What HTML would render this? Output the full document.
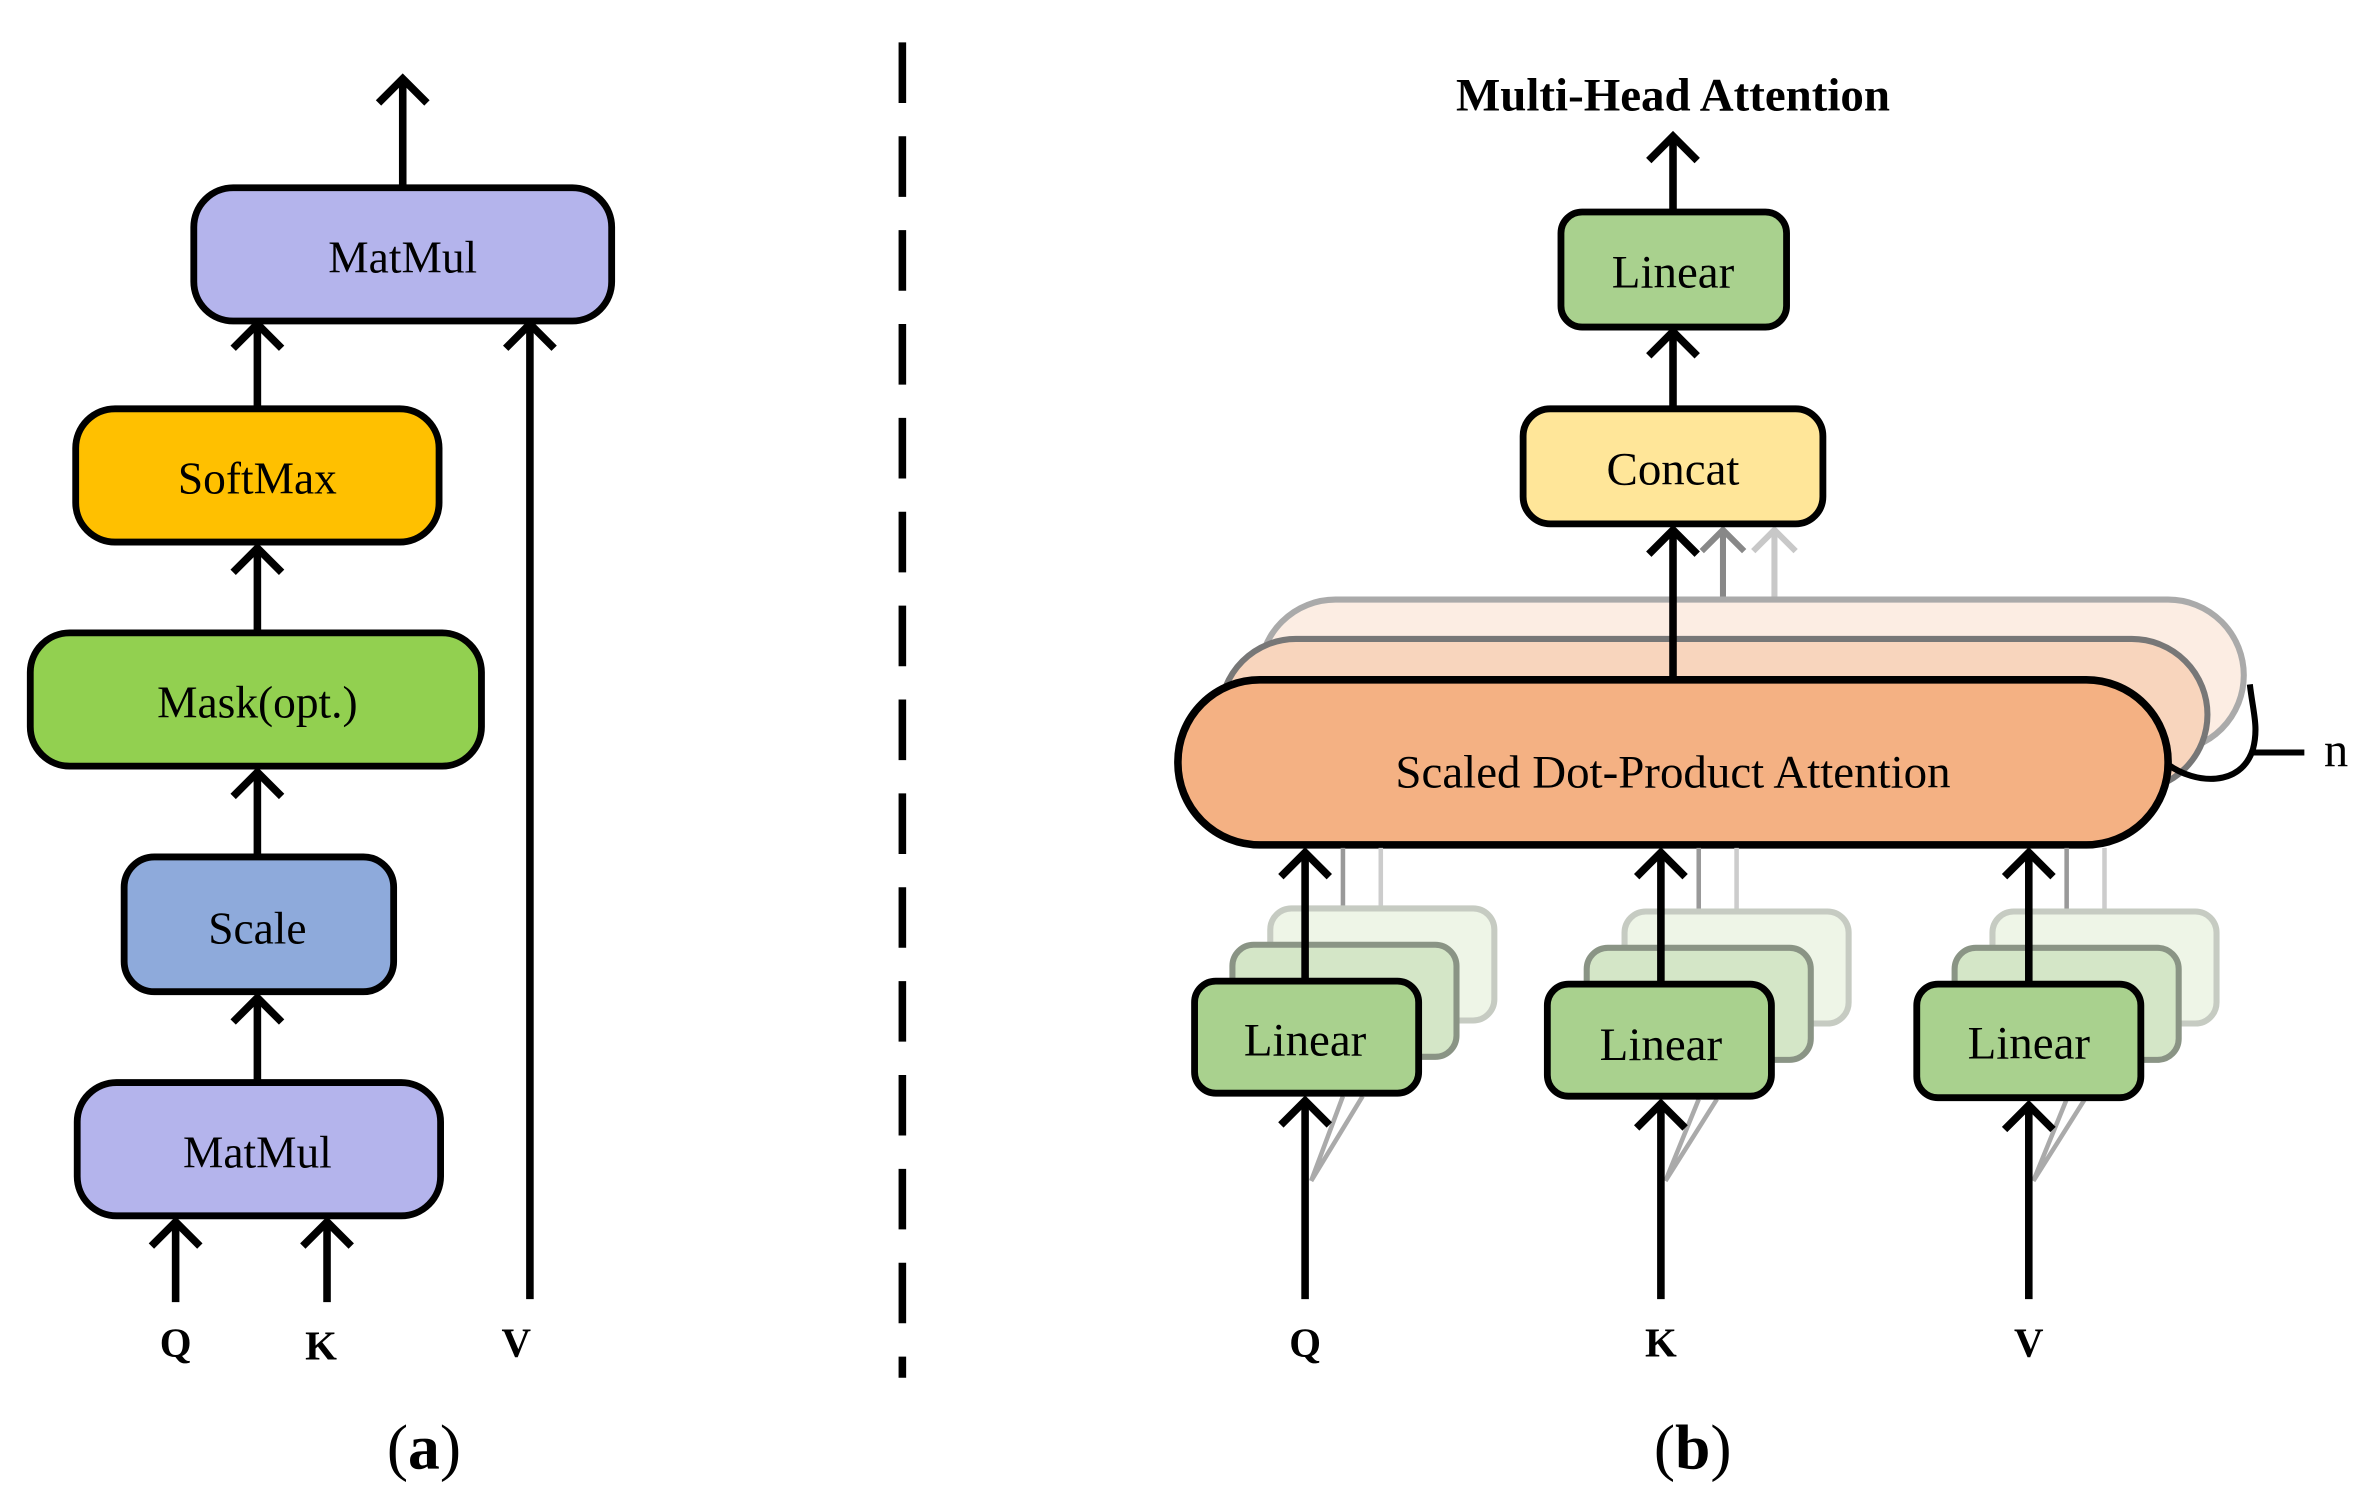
<!DOCTYPE html>
<html><head><meta charset="utf-8"><style>
html,body{margin:0;padding:0;background:#fff;}
svg{display:block;}
text{font-family:"Liberation Serif",serif;}
</style></head><body>
<svg width="2374" height="1505" viewBox="0 0 1568 994" xmlns="http://www.w3.org/2000/svg">
<defs>
<g id="ah"><path d="M-16,16 L0,0 L16,16" fill="none" stroke="#000" stroke-width="5"/></g>
</defs>
<rect width="1568" height="994" fill="#fff"/>
<!-- Left panel -->
<g stroke="#000" stroke-width="5" fill="none">
<line x1="266" y1="124" x2="266" y2="52"/>
<line x1="170" y1="270" x2="170" y2="214"/>
<line x1="350" y1="858" x2="350" y2="214"/>
<line x1="170" y1="418" x2="170" y2="362"/>
<line x1="170" y1="566" x2="170" y2="510"/>
<line x1="170" y1="715" x2="170" y2="659"/>
<line x1="116" y1="860" x2="116" y2="807"/>
<line x1="216" y1="860" x2="216" y2="807"/>
</g>
<use href="#ah" x="266" y="52"/>
<use href="#ah" x="170" y="214"/>
<use href="#ah" x="350" y="214"/>
<use href="#ah" x="170" y="362"/>
<use href="#ah" x="170" y="510"/>
<use href="#ah" x="170" y="659"/>
<use href="#ah" x="116" y="807"/>
<use href="#ah" x="216" y="807"/>
<g stroke="#000" stroke-width="4.5">
<rect x="128" y="124" width="276" height="88" rx="26" fill="#b4b4ec"/>
<rect x="50" y="270" width="240" height="88" rx="26" fill="#ffc000"/>
<rect x="20" y="418" width="298" height="88" rx="26" fill="#92d050"/>
<rect x="82" y="566" width="178" height="89" rx="20" fill="#8eaadb"/>
<rect x="51" y="715" width="240" height="88" rx="26" fill="#b4b4ec"/>
</g>
<g font-size="30" text-anchor="middle" fill="#000">
<text x="266" y="180">MatMul</text>
<text x="170" y="326">SoftMax</text>
<text x="170" y="474">Mask(opt.)</text>
<text x="170" y="623">Scale</text>
<text x="170" y="771">MatMul</text>
</g>
<g font-size="27" font-weight="bold" text-anchor="middle">
<text x="116" y="896">Q</text>
<text x="212" y="898">K</text>
<text x="341" y="896">V</text>
</g>
<text x="280" y="970" font-size="42" text-anchor="middle">(<tspan font-weight="bold">a</tspan>)</text>
<!-- dashed divider -->
<line x1="596" y1="28" x2="596" y2="910" stroke="#000" stroke-width="5" stroke-dasharray="40,22"/>
<!-- Right panel -->
<text x="1105" y="73" font-size="31" font-weight="bold" text-anchor="middle">Multi-Head Attention</text>
<line x1="1105" y1="140" x2="1105" y2="90" stroke="#000" stroke-width="5"/>
<use href="#ah" x="1105" y="90"/>
<rect x="1031" y="140" width="149" height="76" rx="14" fill="#a9d18e" stroke="#000" stroke-width="4.5"/>
<text x="1105" y="190" font-size="31" text-anchor="middle">Linear</text>
<line x1="1105" y1="270" x2="1105" y2="219" stroke="#000" stroke-width="5"/>
<use href="#ah" x="1105" y="219"/>
<g stroke="#888" stroke-width="4" fill="none">
<line x1="1138" y1="423" x2="1138" y2="350"/>
<path d="M1124,364 L1138,350 L1152,364"/>
</g>
<g stroke="#c8c8c8" stroke-width="4" fill="none">
<line x1="1172" y1="397" x2="1172" y2="350"/>
<path d="M1158,364 L1172,350 L1186,364"/>
</g>
<rect x="1006" y="270" width="198" height="76" rx="18" fill="#ffe699" stroke="#000" stroke-width="4.5"/>
<text x="1105" y="320" font-size="31" text-anchor="middle">Concat</text>
<!-- SDPA stack -->
<rect x="832" y="396" width="650" height="100" rx="50" fill="#fcede3" stroke="#aaa" stroke-width="4"/>
<rect x="806" y="422" width="652" height="100" rx="50" fill="#f8d5bd" stroke="#777" stroke-width="4"/>
<line x1="1105" y1="449" x2="1105" y2="350" stroke="#000" stroke-width="5"/>
<use href="#ah" x="1105" y="350"/>
<rect x="778" y="449" width="654" height="109" rx="54" fill="#f4b183" stroke="#000" stroke-width="5"/>
<text x="1105" y="520" font-size="31" text-anchor="middle">Scaled Dot-Product Attention</text>
<path d="M1432,505 C1450,518 1480,520 1488,495 C1492,480 1488,470 1486,452" fill="none" stroke="#000" stroke-width="4"/>
<line x1="1488" y1="497" x2="1522" y2="497" stroke="#000" stroke-width="4"/>
<text x="1543" y="506" font-size="32" text-anchor="middle">n</text>
<g>
<line x1="912" y1="600" x2="912" y2="560" stroke="#ccc" stroke-width="3"/>
<line x1="887" y1="625" x2="887" y2="560" stroke="#999" stroke-width="3"/>
<rect x="839" y="600" width="148" height="74" rx="14" fill="#eef5e7" stroke="#c6cbc2" stroke-width="4"/>
<rect x="814" y="624" width="148" height="74" rx="14" fill="#d4e6c7" stroke="#8a9485" stroke-width="4"/>
<path d="M866,780 L887,724 M866,780 L900,724" stroke="#aaa" stroke-width="3"/>
<line x1="862" y1="648" x2="862" y2="563" stroke="#000" stroke-width="5"/>
<use href="#ah" x="862" y="563"/>
<rect x="789" y="648" width="148" height="74" rx="14" fill="#a9d18e" stroke="#000" stroke-width="4.5"/>
<text x="862" y="697" font-size="31" text-anchor="middle">Linear</text>
<line x1="862" y1="858" x2="862" y2="727" stroke="#000" stroke-width="5"/>
<use href="#ah" x="862" y="727"/>
<text x="862" y="896" font-size="27" font-weight="bold" text-anchor="middle">Q</text>
</g>
<g>
<line x1="1147" y1="602" x2="1147" y2="560" stroke="#ccc" stroke-width="3"/>
<line x1="1122" y1="627" x2="1122" y2="560" stroke="#999" stroke-width="3"/>
<rect x="1073" y="602" width="148" height="74" rx="14" fill="#eef5e7" stroke="#c6cbc2" stroke-width="4"/>
<rect x="1048" y="626" width="148" height="74" rx="14" fill="#d4e6c7" stroke="#8a9485" stroke-width="4"/>
<path d="M1100,780 L1122,726 M1100,780 L1134,726" stroke="#aaa" stroke-width="3"/>
<line x1="1097" y1="650" x2="1097" y2="563" stroke="#000" stroke-width="5"/>
<use href="#ah" x="1097" y="563"/>
<rect x="1022" y="650" width="148" height="74" rx="14" fill="#a9d18e" stroke="#000" stroke-width="4.5"/>
<text x="1097" y="700" font-size="31" text-anchor="middle">Linear</text>
<line x1="1097" y1="858" x2="1097" y2="729" stroke="#000" stroke-width="5"/>
<use href="#ah" x="1097" y="729"/>
<text x="1097" y="896" font-size="27" font-weight="bold" text-anchor="middle">K</text>
</g>
<g>
<line x1="1390" y1="602" x2="1390" y2="560" stroke="#ccc" stroke-width="3"/>
<line x1="1365" y1="627" x2="1365" y2="560" stroke="#999" stroke-width="3"/>
<rect x="1316" y="602" width="148" height="74" rx="14" fill="#eef5e7" stroke="#c6cbc2" stroke-width="4"/>
<rect x="1291" y="626" width="148" height="74" rx="14" fill="#d4e6c7" stroke="#8a9485" stroke-width="4"/>
<path d="M1343,780 L1365,726 M1343,780 L1377,726" stroke="#aaa" stroke-width="3"/>
<line x1="1340" y1="650" x2="1340" y2="563" stroke="#000" stroke-width="5"/>
<use href="#ah" x="1340" y="563"/>
<rect x="1266" y="650" width="148" height="75" rx="14" fill="#a9d18e" stroke="#000" stroke-width="4.5"/>
<text x="1340" y="699" font-size="31" text-anchor="middle">Linear</text>
<line x1="1340" y1="858" x2="1340" y2="730" stroke="#000" stroke-width="5"/>
<use href="#ah" x="1340" y="730"/>
<text x="1340" y="896" font-size="27" font-weight="bold" text-anchor="middle">V</text>
</g>
<text x="1118" y="970" font-size="42" text-anchor="middle">(<tspan font-weight="bold">b</tspan>)</text>
</svg>
</body></html>
